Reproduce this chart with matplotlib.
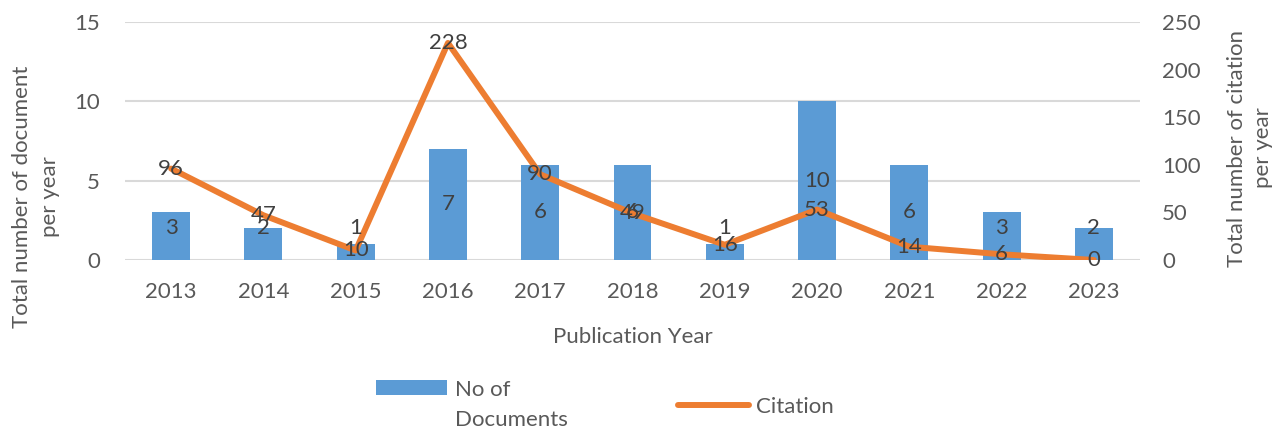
import numpy as np
import matplotlib
matplotlib.use("Agg")
import matplotlib.pyplot as plt
from matplotlib.patches import Patch, Rectangle
from matplotlib.lines import Line2D
from matplotlib.legend_handler import HandlerPatch

years = ["2013", "2014", "2015", "2016", "2017", "2018", "2019", "2020", "2021", "2022", "2023"]
documents = [3, 2, 1, 7, 6, 6, 1, 10, 6, 3, 2]
citations = [96, 47, 10, 228, 90, 49, 16, 53, 14, 6, 0]

plt.rcParams["font.family"] = ["Lato", "DejaVu Sans"]
FS = 16
TICK_C = "#595959"
LABEL_C = "#404040"
BLUE = "#5B9BD5"
ORANGE = "#ED7D31"
GRID = "#D9D9D9"

fig = plt.figure(figsize=(12.86, 4.30), dpi=100)
ax1 = fig.add_axes([125 / 1286, 1 - 260 / 430, (1140 - 125) / 1286, (260 - 22) / 430])
ax2 = ax1.twinx()

x = np.arange(len(years))
ax1.bar(x, documents, width=0.41, color=BLUE, zorder=2)
ax2.plot(x, citations, color=ORANGE, lw=4.3, solid_capstyle="round",
         solid_joinstyle="round", zorder=3)

ax1.set_xlim(-0.5, len(years) - 0.5)
ax1.set_ylim(0, 15)
ax2.set_ylim(0, 250)
ax1.set_yticks([0, 5, 10, 15])
ax2.set_yticks([0, 50, 100, 150, 200, 250])
ax1.set_xticks(x)
ax1.set_xticklabels(years)

ax1.grid(axis="y", color=GRID, lw=1.5, zorder=0)
ax1.set_axisbelow(True)
for a in (ax1, ax2):
    for s in a.spines.values():
        s.set_visible(False)
    a.tick_params(length=0, labelsize=FS, labelcolor=TICK_C)
ax1.tick_params(axis="y", pad=18)
ax1.tick_params(axis="x", pad=16)
ax2.tick_params(axis="y", pad=16)

# labels: documents centred in bars (kept off the baseline), citations on points
for i, v in enumerate(documents):
    ax2.text(i, max(v / 2, 2), str(v), transform=ax1.transData, ha="center",
             va="center", fontsize=FS, color=LABEL_C, zorder=5)
for i, v in enumerate(citations):
    ax2.text(i, v, str(v), ha="center", va="center", fontsize=FS,
             color=LABEL_C, zorder=5)

ax1.set_xlabel("Publication Year", fontsize=FS, color=TICK_C, labelpad=18)
fig.text(36 / 1286, 1 - 197 / 430, "Total number of document\nper year", rotation=90,
         ha="center", va="center", fontsize=FS, color=TICK_C, linespacing=1.45)
fig.text(1250 / 1286, 1 - 148 / 430, "Total number of citation\nper year", rotation=90,
         ha="center", va="center", fontsize=FS, color=TICK_C, linespacing=1.35)


def top_patch(legend, orig_handle, xdescent, ydescent, width, height, fontsize):
    # Excel puts the key next to the first line of a wrapped entry
    return Rectangle((-xdescent, -ydescent + 0.8 * fontsize), width, height)


handles = [Patch(facecolor=BLUE), Line2D([], [], color=ORANGE, lw=4.3, solid_capstyle="round")]
leg = fig.legend(handles, ["No of\nDocuments", "Citation"], loc="center",
                 bbox_to_anchor=(605 / 1286, 1 - 405 / 430), ncol=2, frameon=False,
                 fontsize=FS, labelcolor=TICK_C, handlelength=3.2, handletextpad=0.35,
                 columnspacing=4.95, handler_map={Patch: HandlerPatch(patch_func=top_patch)})
for t in leg.get_texts():
    t.set_linespacing(1.65)

fig.savefig("out.png", dpi=100)
